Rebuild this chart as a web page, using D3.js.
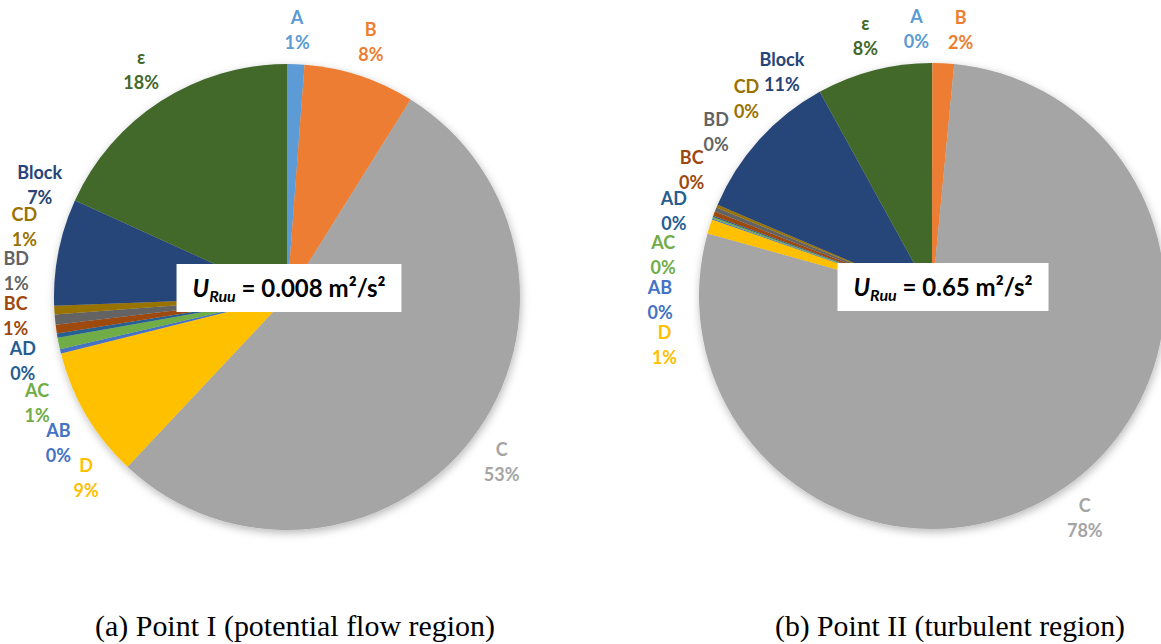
<!DOCTYPE html>
<html>
<head>
<meta charset="utf-8">
<script src="https://cdn.jsdelivr.net/npm/d3@7"></script>
<style>
  body { margin: 0; background: #fff; }
  svg { display: block; }
</style>
</head>
<body>
<svg id="chart" width="1161" height="644"></svg>
<script>
// Contribution of each term to the Reynolds-stress budget (percent)
const categories = ["A", "B", "C", "D", "AB", "AC", "AD", "BC", "BD", "CD", "Block", "ε"];
const sliceColors = ["#5B9BD5", "#ED7D31", "#A5A5A5", "#FFC000", "#4472C4", "#70AD47",
                     "#255E91", "#9E480E", "#636363", "#997300", "#264478", "#43682B"];
const pointIValues  = [1.2, 7.7, 53.1, 9.1, 0.3, 0.8, 0.3, 0.6, 0.7, 0.6, 7.4, 18.2];
const pointIIValues = [0.02, 1.5, 77.8, 1.0, 0.08, 0.1, 0.1, 0.3, 0.3, 0.2, 10.6, 8.0];
const energyValues = ["0.008", "0.65"];
const captions = ["(a) Point I (potential flow region)", "(b) Point II (turbulent region)"];

const svg = d3.select("#chart");
const R = 233;
const minSep = 9.5 * Math.PI / 180;

const defs = svg.append("defs");
const f = defs.append("filter").attr("id", "pieShadow")
  .attr("x", "-20%").attr("y", "-20%").attr("width", "140%").attr("height", "140%");
f.append("feDropShadow").attr("dx", 1).attr("dy", 3).attr("stdDeviation", 4)
  .attr("flood-color", "#000").attr("flood-opacity", 0.28);

const panels = [
  { values: pointIValues,  cx: 287, cy: 297, eqX: 289, eqY: 297, capX: 295, capW: 400, energy: energyValues[0], caption: captions[0] },
  { values: pointIIValues, cx: 932, cy: 296, eqX: 943, eqY: 296, capX: 950, capW: 350, energy: energyValues[1], caption: captions[1] }
];

const pie = d3.pie().sort(null).value(d => d.value);
const arc = d3.arc().innerRadius(0).outerRadius(R);

// spread label angles so neighbouring labels keep a minimum angular gap
function spreadAngles(items) {
  const s = items.slice().sort((a, b) => a.angle - b.angle);
  const n = s.length;
  for (let it = 0; it < 400; it++) {
    let moved = false;
    for (let i = 0; i < n; i++) {
      const a = s[i], b = s[(i + 1) % n];
      let diff = b.angle - a.angle;
      if (i === n - 1) diff += 2 * Math.PI;
      if (diff < minSep) {
        const push = (minSep - diff) / 2 * 0.5;
        a.angle -= push; b.angle += push; moved = true;
      }
    }
    if (!moved) break;
  }
}

// labels sit a little further out at the sides than at the top and bottom
const labelRadius = a => R + 34 + 5 * Math.abs(Math.sin(a));

panels.forEach(p => {
  const data = categories.map((name, i) => ({ name, value: p.values[i], color: sliceColors[i] }));
  const total = d3.sum(data, d => d.value);
  const arcs = pie(data);

  const g = svg.append("g").attr("transform", `translate(${p.cx},${p.cy})`);
  g.append("g").attr("filter", "url(#pieShadow)")
    .selectAll("path").data(arcs).join("path")
    .attr("d", arc).attr("fill", d => d.data.color);

  const labels = arcs.map(a => ({
    name: a.data.name, color: a.data.color,
    pct: Math.round(a.data.value / total * 100) + "%",
    angle: (a.startAngle + a.endAngle) / 2
  }));
  spreadAngles(labels);

  const lg = g.append("g")
    .attr("font-family", "Lato, 'Open Sans', sans-serif")
    .attr("font-weight", 700).attr("font-size", 18)
    .attr("text-anchor", "middle");
  labels.forEach(l => {
    const r = labelRadius(l.angle);
    const x = r * Math.sin(l.angle);
    const y = -r * Math.cos(l.angle);
    const t = lg.append("text").attr("fill", l.color);
    t.append("tspan").attr("x", x).attr("y", y - 6).text(l.name);
    t.append("tspan").attr("x", x).attr("y", y + 19).text(l.pct);
  });

  // energy annotation box
  const eg = svg.append("g");
  const rect = eg.append("rect").attr("fill", "#fff");
  const eq = eg.append("text")
    .attr("x", p.eqX).attr("y", p.eqY)
    .attr("text-anchor", "middle")
    .attr("font-family", "Lato, 'Open Sans', sans-serif")
    .attr("font-weight", 700).attr("font-size", 24).attr("fill", "#000");
  eq.append("tspan").attr("font-style", "italic").text("U");
  eq.append("tspan").attr("font-style", "italic").attr("font-size", 16).attr("dy", 5).text("Ruu");
  eq.append("tspan").attr("dy", -5).text(` = ${p.energy} m²/s²`);
  const bb = eq.node().getBBox();
  rect.attr("x", bb.x - 16).attr("y", p.eqY - 33)
    .attr("width", bb.width + 32).attr("height", 48);

  svg.append("text")
    .attr("x", p.capX).attr("y", 636)
    .attr("text-anchor", "middle")
    .attr("font-family", "'Liberation Serif', 'Times New Roman', serif")
    .attr("font-size", 29).attr("fill", "#000")
    .attr("textLength", p.capW).attr("lengthAdjust", "spacingAndGlyphs")
    .text(p.caption);
});
</script>
</body>
</html>
